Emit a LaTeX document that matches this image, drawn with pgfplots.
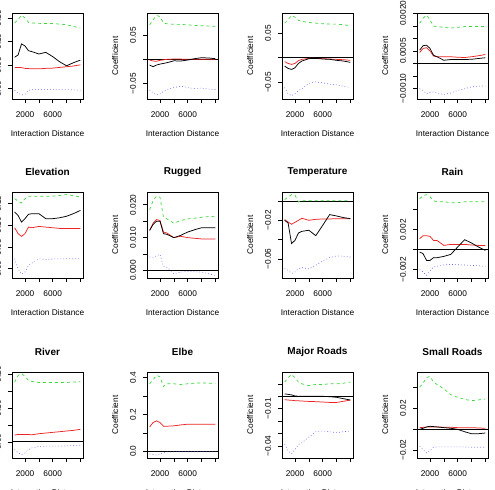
\documentclass[border=0pt]{standalone}
\usepackage{fontspec}
\setmainfont{Liberation Sans}
\usepackage{pgfplots}
\usepackage{pgfplotstable}
\pgfplotsset{compat=1.18}
\definecolor{rgreen}{RGB}{60,215,60}
\definecolor{rred}{RGB}{235,35,35}
\definecolor{rblue}{RGB}{95,95,240}

% columns: x, green (upper), black (estimate), red, blue (lower)
\pgfplotstableread{
x g b r l
500 2.79 1.33 0.89 -0.07
1000 2.93 1.43 0.90 -0.19
1500 3.11 1.90 0.89 -0.27
2000 3.00 1.81 0.86 -0.24
2500 2.81 1.61 0.85 -0.07
3000 2.79 1.57 0.84 -0.04
4000 2.77 1.47 0.84 -0.04
5000 2.76 1.54 0.86 -0.04
6000 2.76 1.36 0.87 -0.04
7000 2.74 1.14 0.90 -0.04
8000 2.71 0.97 0.93 -0.04
9000 2.64 1.10 0.96 -0.05
10000 2.57 1.21 1.01 -0.07
}\tA
\pgfplotstableread{
x g b r l
500 0.071 -0.0117 -0.0014 -0.063
1000 0.081 -0.0150 -0.0034 -0.069
1500 0.090 -0.0117 -0.0040 -0.073
2000 0.088 -0.0097 -0.0020 -0.071
2500 0.0745 -0.0083 -0.0010 -0.066
3000 0.073 -0.0069 0.0000 -0.062
4000 0.072 -0.0030 0.0007 -0.058
5000 0.0717 -0.0034 0.0005 -0.055
6000 0.071 -0.0014 0.0003 -0.058
7000 0.0696 0.0014 0.0002 -0.060
8000 0.069 0.0034 0.0001 -0.059
9000 0.0683 0.0028 0.0000 -0.061
10000 0.068 0.0014 0.0000 -0.062
}\tB
\pgfplotstableread{
x g b r l
500 0.070 -0.0170 -0.0080 -0.0605
1000 0.077 -0.0218 -0.0116 -0.073
1500 0.0857 -0.0238 -0.0136 -0.077
2000 0.082 -0.0204 -0.0116 -0.073
2500 0.0755 -0.0116 -0.0060 -0.067
3000 0.0735 -0.0068 -0.0034 -0.0626
4000 0.0714 -0.0020 -0.0014 -0.052
5000 0.070 -0.0014 -0.0014 -0.049
6000 0.0687 -0.0027 -0.0020 -0.051
7000 0.068 -0.0034 -0.0027 -0.0537
8000 0.068 -0.0054 -0.0034 -0.055
9000 0.0667 -0.0068 -0.0041 -0.058
10000 0.0646 -0.0095 -0.0054 -0.0605
}\tC
\pgfplotstableread{
x g b r l
500 0.00160 0.00053 0.00044 -0.00100
1000 0.00180 0.00071 0.00060 -0.00107
1500 0.00193 0.00073 0.00063 -0.00120
2000 0.00173 0.00060 0.00050 -0.00115
2500 0.00149 0.00033 0.00030 -0.00113
3000 0.00147 0.00027 0.00027 -0.00117
4000 0.00144 0.00013 0.00027 -0.00123
5000 0.00141 0.00016 0.00027 -0.00117
6000 0.00144 0.00016 0.00025 -0.00107
7000 0.00147 0.00016 0.00024 -0.00100
8000 0.00147 0.00017 0.00027 -0.00093
9000 0.00147 0.00020 0.00031 -0.00090
10000 0.00147 0.00023 0.00036 -0.00090
}\tD
\pgfplotstableread{
x g b r l
500 3.23 2.62 1.89 0.46
1000 3.12 2.46 1.62 0.00
1500 3.03 2.15 1.49 -0.26
2000 3.23 2.31 1.62 -0.15
2500 3.34 2.51 1.92 0.15
3000 3.34 2.54 1.89 0.26
4000 3.34 2.54 1.95 0.46
5000 3.34 2.31 1.92 0.42
6000 3.35 2.31 1.89 0.45
7000 3.38 2.35 1.86 0.45
8000 3.42 2.42 1.85 0.46
9000 3.37 2.54 1.85 0.46
10000 3.31 2.69 1.85 0.46
}\tE
\pgfplotstableread{
x g b r l
500 0.0185 0.0122 0.0122 0.0041
1000 0.0213 0.0140 0.0144 0.0039
1500 0.0226 0.0150 0.0155 0.0045
2000 0.0223 0.0150 0.0152 0.0049
2500 0.0162 0.0112 0.0117 0.0012
3000 0.0157 0.0110 0.0114 0.0010
4000 0.0144 0.0100 0.0100 -0.0010
5000 0.0152 0.0107 0.0104 -0.0005
6000 0.0157 0.0117 0.0100 -0.0003
7000 0.0159 0.0124 0.0098 -0.0004
8000 0.0162 0.0130 0.0096 -0.0005
9000 0.0164 0.0130 0.0096 -0.0010
10000 0.0165 0.0130 0.0096 -0.0015
}\tF
\pgfplotstableread{
x g b r l
500 0.0014 -0.0200 -0.0193 -0.0700
1000 0.0041 -0.0228 -0.0217 -0.0717
1500 0.0066 -0.0441 -0.0241 -0.0750
2000 0.0059 -0.0407 -0.0221 -0.0734
2500 -0.0010 -0.0331 -0.0200 -0.0700
3000 0.0002 -0.0314 -0.0179 -0.0690
4000 0.0002 -0.0303 -0.0200 -0.0703
5000 0.0002 -0.0359 -0.0190 -0.0666
6000 0.0002 -0.0252 -0.0186 -0.0620
7000 0.0002 -0.0141 -0.0186 -0.0586
8000 0.0002 -0.0155 -0.0183 -0.0569
9000 0.0002 -0.0172 -0.0183 -0.0572
10000 0.0002 -0.0183 -0.0183 -0.0580
}\tG
\pgfplotstableread{
x g b r l
500 0.0051 -0.00023 0.00110 -0.00200
1000 0.0054 -0.00040 0.00140 -0.00223
1500 0.0055 -0.00107 0.00140 -0.00257
2000 0.0053 -0.00107 0.00133 -0.00213
2500 0.0049 -0.00080 0.00093 -0.00173
3000 0.0048 -0.00080 0.00093 -0.00167
4000 0.0048 -0.00067 0.00043 -0.00153
5000 0.0047 -0.00047 0.00053 -0.00147
6000 0.0047 0.00027 0.00053 -0.00150
7000 0.0048 0.00100 0.00053 -0.00153
8000 0.0048 0.00067 0.00047 -0.00157
9000 0.0048 0.00027 0.00043 -0.00160
10000 0.0048 -0.00007 0.00043 -0.00167
}\tH
\pgfplotstableread{
x g b r l
500 3.54 0 0.40 -0.46
1000 3.94 0 0.44 -0.66
1500 4.04 0 0.44 -0.76
2000 3.88 0 0.44 -0.66
2500 3.64 0 0.43 -0.46
3000 3.58 0 0.42 -0.36
4000 3.52 0 0.48 -0.28
5000 3.52 0 0.52 -0.26
6000 3.52 0 0.56 -0.26
7000 3.52 0 0.60 -0.26
8000 3.52 0 0.64 -0.24
9000 3.54 0 0.68 -0.22
10000 3.56 0 0.74 -0.20
}\tI
\pgfplotstableread{
x g b r l
500 0.367 0 0.132 -0.015
1000 0.389 0 0.156 -0.018
1500 0.413 0 0.165 -0.021
2000 0.404 0 0.156 -0.015
2500 0.352 0 0.136 -0.010
3000 0.367 0 0.136 -0.004
4000 0.367 0 0.138 -0.003
5000 0.363 0 0.143 -0.003
6000 0.367 0 0.147 -0.003
7000 0.370 0 0.147 -0.003
8000 0.372 0 0.147 -0.003
9000 0.370 0 0.147 -0.003
10000 0.370 0 0.147 -0.003
}\tJ
\pgfplotstableread{
x g b r l
500 0.0114 0.0019 -0.0027 -0.0386
1000 0.0149 0.0016 -0.0030 -0.0435
1500 0.0176 0.0011 -0.0032 -0.0462
2000 0.0149 0.0003 -0.0035 -0.0427
2500 0.0114 0.0000 -0.0036 -0.0386
3000 0.0100 0.0000 -0.0038 -0.0373
4000 0.0086 0.0000 -0.0041 -0.0327
5000 0.0095 0.0000 -0.0043 -0.0284
6000 0.0095 0.0000 -0.0046 -0.0278
7000 0.0100 -0.0003 -0.0049 -0.0284
8000 0.0100 -0.0008 -0.0049 -0.0292
9000 0.0105 -0.0019 -0.0040 -0.0284
10000 0.0114 -0.0030 -0.0030 -0.0278
}\tK
\pgfplotstableread{
x g b r l
500 0.0403 0.0000 0.0016 -0.0161
1000 0.0442 0.0010 0.0019 -0.0194
1500 0.0494 0.0023 0.0021 -0.0226
2000 0.0506 0.0029 0.0023 -0.0205
2500 0.0452 0.0026 0.0023 -0.0171
3000 0.0429 0.0023 0.0023 -0.0168
4000 0.0387 0.0016 0.0020 -0.0168
5000 0.0332 0.0010 0.0020 -0.0168
6000 0.0306 0.0000 0.0016 -0.0168
7000 0.0287 -0.0023 0.0016 -0.0168
8000 0.0274 -0.0042 0.0016 -0.0171
9000 0.0281 -0.0042 0.0013 -0.0171
10000 0.0290 -0.0035 0.0010 -0.0171
}\tL

\newcommand{\tickfont}{\fontsize{8.3bp}{10bp}\selectfont}
\pgfplotsset{
  panel/.style={
    scale only axis, width=71bp, height=86bp, anchor=north west,
    xmin=120, xmax=10380,
    xtick={2000,4000,6000,8000,10000}, xticklabels={2000,,6000,,},
    tick align=outside, tick pos=left, major tick length=4bp,
    every tick/.style={black, line width=0.6pt},
    axis line style={line width=0.6pt, black},
    /pgf/number format/assume math mode=true,
    ticklabel style={font=\tickfont},
    xticklabel style={anchor=center, yshift=-12bp},
    yticklabel style={xshift=-10bp, rotate=90, anchor=center},
    scaled ticks=false,
    xlabel={Interaction Distance}, ylabel={Coefficient},
    label style={font=\tickfont},
    xlabel style={at={(axis description cs:0.5,-0.407)}, anchor=center},
    ylabel style={at={(axis description cs:-0.45,0.5)}, anchor=center},
    title style={at={(axis description cs:0.5,1.163)}, anchor=center, font=\fontsize{10bp}{12bp}\selectfont\bfseries},
  },
  gl/.style={rgreen, line width=0.7pt, dash pattern=on 3pt off 3pt},
  bl/.style={black, line width=0.75pt},
  rl/.style={rred, line width=0.75pt},
  ll/.style={rblue, line width=0.6pt, dash pattern=on 0.75pt off 2.25pt},
  zl/.style={black, line width=0.75pt},
}

\begin{document}
\begin{tikzpicture}
\useasboundingbox (0,0) rectangle (495bp,490bp);
\clip (0,0) rectangle (495bp,490bp);
% row 1
\begin{axis}[panel, at={(12bp,477bp)}, ymin=-0.44, ymax=3.21,
  ytick={0,1,2,3}, yticklabels={0.00,0.05,0.10,0.15}]
  \addplot[gl] table[x=x,y=g]{\tA};
  \addplot[rl] table[x=x,y=r]{\tA};
  \addplot[bl] table[x=x,y=b]{\tA};
  \addplot[ll] table[x=x,y=l]{\tA};
\end{axis}
\begin{axis}[panel, at={(147bp,477bp)}, ymin=-0.0814, ymax=0.0952,
  ytick={-0.05,0,0.05}, yticklabels={−0.05,,0.05}]
  \addplot[zl] coordinates {(120,0) (10380,0)};
  \addplot[gl] table[x=x,y=g]{\tB};
  \addplot[rl] table[x=x,y=r]{\tB};
  \addplot[bl] table[x=x,y=b]{\tB};
  \addplot[ll] table[x=x,y=l]{\tB};
\end{axis}
\begin{axis}[panel, at={(282bp,477bp)}, ymin=-0.0837, ymax=0.0905,
  ytick={-0.05,0,0.05}, yticklabels={−0.05,,0.05}]
  \addplot[zl] coordinates {(120,0) (10380,0)};
  \addplot[gl] table[x=x,y=g]{\tC};
  \addplot[rl] table[x=x,y=r]{\tC};
  \addplot[bl] table[x=x,y=b]{\tC};
  \addplot[ll] table[x=x,y=l]{\tC};
\end{axis}
\begin{axis}[panel, at={(417bp,477bp)}, ymin=-0.00141, ymax=0.00201,
  ytick={-0.001,-0.0005,0,0.0005,0.001,0.0015,0.002},
  yticklabels={−0.0010,,,0.0005,,,0.0020}]
  \addplot[zl] coordinates {(120,0) (10380,0)};
  \addplot[gl] table[x=x,y=g]{\tD};
  \addplot[rl] table[x=x,y=r]{\tD};
  \addplot[bl] table[x=x,y=b]{\tD};
  \addplot[ll] table[x=x,y=l]{\tD};
\end{axis}
% row 2
\begin{axis}[panel, at={(12bp,298bp)}, title={Elevation}, ymin=-0.43, ymax=3.54,
  ytick={0,1,2,3}, yticklabels={0.00,0.05,0.10,0.15}]
  \addplot[gl] table[x=x,y=g]{\tE};
  \addplot[rl] table[x=x,y=r]{\tE};
  \addplot[bl] table[x=x,y=b]{\tE};
  \addplot[ll] table[x=x,y=l]{\tE};
\end{axis}
\begin{axis}[panel, at={(147bp,298bp)}, title={Rugged}, ymin=-0.0023, ymax=0.0239,
  ytick={0,0.005,0.01,0.015,0.02}, yticklabels={0.000,,0.010,,0.020}]
  \addplot[zl] coordinates {(120,0) (10380,0)};
  \addplot[gl] table[x=x,y=g]{\tF};
  \addplot[rl] table[x=x,y=r]{\tF};
  \addplot[bl] table[x=x,y=b]{\tF};
  \addplot[ll] table[x=x,y=l]{\tF};
\end{axis}
\begin{axis}[panel, at={(282bp,298bp)}, title={Temperature}, ymin=-0.0797, ymax=0.0093,
  ytick={-0.06,-0.04,-0.02,0}, yticklabels={−0.06,,−0.02,}]
  \addplot[zl] coordinates {(120,0) (10380,0)};
  \addplot[gl] table[x=x,y=g]{\tG};
  \addplot[rl] table[x=x,y=r]{\tG};
  \addplot[bl] table[x=x,y=b]{\tG};
  \addplot[ll] table[x=x,y=l]{\tG};
\end{axis}
\begin{axis}[panel, at={(417bp,298bp)}, title={Rain}, ymin=-0.00283, ymax=0.00577,
  ytick={-0.002,0,0.002,0.004}, yticklabels={−0.002,,0.002,}]
  \addplot[zl] coordinates {(120,0) (10380,0)};
  \addplot[gl] table[x=x,y=g]{\tH};
  \addplot[rl] table[x=x,y=r]{\tH};
  \addplot[bl] table[x=x,y=b]{\tH};
  \addplot[ll] table[x=x,y=l]{\tH};
\end{axis}
% row 3
\begin{axis}[panel, at={(12bp,118bp)}, title={River}, ymin=-0.96, ymax=4.14,
  ytick={0,1,2,3,4}, yticklabels={0.00,,0.10,,0.20}]
  \addplot[zl] coordinates {(120,0) (10380,0)};
  \addplot[gl] table[x=x,y=g]{\tI};
  \addplot[rl] table[x=x,y=r]{\tI};
  \addplot[bl] table[x=x,y=b]{\tI};
  \addplot[ll] table[x=x,y=l]{\tI};
\end{axis}
\begin{axis}[panel, at={(147bp,118bp)}, title={Elbe}, ymin=-0.037, ymax=0.431,
  ytick={0,0.1,0.2,0.3,0.4}, yticklabels={0.0,,0.2,,0.4}]
  \addplot[zl] coordinates {(120,0) (10380,0)};
  \addplot[gl] table[x=x,y=g]{\tJ};
  \addplot[rl] table[x=x,y=r]{\tJ};
  \addplot[bl] table[x=x,y=b]{\tJ};
  \addplot[ll] table[x=x,y=l]{\tJ};
\end{axis}
\begin{axis}[panel, at={(282bp,118bp)}, title={Major Roads}, ymin=-0.0495, ymax=0.0195,
  ytick={-0.04,-0.03,-0.02,-0.01,0,0.01}, yticklabels={−0.04,,,−0.01,,}]
  \addplot[zl] coordinates {(120,0) (10380,0)};
  \addplot[gl] table[x=x,y=g]{\tK};
  \addplot[rl] table[x=x,y=r]{\tK};
  \addplot[bl] table[x=x,y=b]{\tK};
  \addplot[ll] table[x=x,y=l]{\tK};
\end{axis}
\begin{axis}[panel, at={(417bp,118bp)}, title={Small Roads}, ymin=-0.0274, ymax=0.0548,
  ytick={-0.02,0,0.02,0.04}, yticklabels={−0.02,,0.02,}]
  \addplot[zl] coordinates {(120,0) (10380,0)};
  \addplot[gl] table[x=x,y=g]{\tL};
  \addplot[rl] table[x=x,y=r]{\tL};
  \addplot[bl] table[x=x,y=b]{\tL};
  \addplot[ll] table[x=x,y=l]{\tL};
\end{axis}
\end{tikzpicture}
\end{document}
